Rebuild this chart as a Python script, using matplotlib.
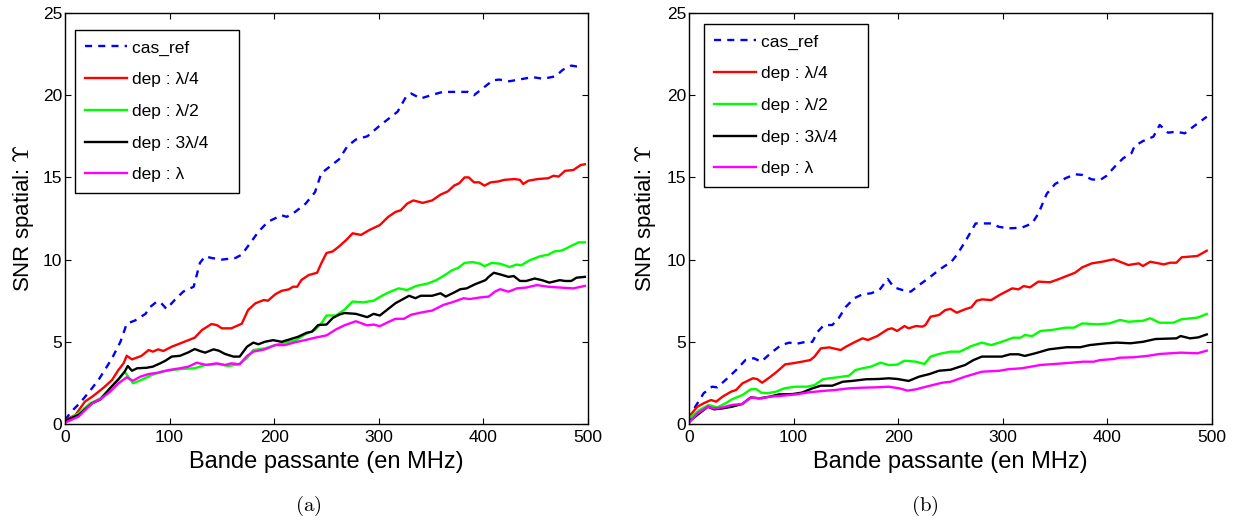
import matplotlib
matplotlib.use("Agg")
import matplotlib.pyplot as plt

plt.rcParams['font.family'] = ['Liberation Sans', 'DejaVu Sans']
plt.rcParams['mathtext.fontset'] = 'cm'

# ---------------- Panel (a) ----------------
a_ref_x = [0, 6, 14, 22, 32, 38, 45, 53, 59, 67, 77, 81, 88, 92, 97, 105, 113, 123, 129, 134, 140, 150, 163, 169, 177, 185, 194, 207, 212, 220, 230, 239, 245, 250,
           262, 270, 278, 289, 300, 310, 318, 326, 331, 340, 350, 361, 377, 385, 391, 399, 409, 415, 425, 434, 447, 457, 469, 476, 484, 489, 495]
a_ref_y = [0.24, 0.75, 1.26, 1.87, 2.68, 3.28, 4.0, 5.0, 6.1, 6.3, 6.7, 7.1, 7.45, 7.35, 7.0, 7.55, 8.05, 8.35, 9.8, 10.2, 10.1, 10.0, 10.1, 10.3, 11.0, 11.7, 12.3, 12.7, 12.6, 12.9, 13.4, 14.1, 15.25, 15.5,
           16.1, 16.9, 17.3, 17.5, 18.1, 18.6, 19.0, 19.9, 20.1, 19.8, 20.0, 20.2, 20.2, 20.2, 20.0, 20.4, 20.9, 20.95, 20.85, 20.95, 21.1, 21.0, 21.15, 21.55, 21.8, 21.75, 21.7]

a_q_x = [0, 10, 19, 26, 32, 38, 45, 51, 56, 59, 64, 73, 80, 84, 89, 94, 102, 110, 118, 124, 131, 140, 145, 150, 159, 169, 175, 182, 190, 194, 201, 207, 214, 218, 222, 226, 233, 241, 245, 250,
         256, 262, 269, 275, 283, 291, 301, 309, 316, 321, 327, 333, 342, 351, 359, 366, 372, 377, 382, 386, 391, 396, 401, 407, 414, 420, 430, 435, 438, 443, 452, 462, 467, 472, 478, 486, 493, 497]
a_q_y = [0.24, 0.55, 1.36, 1.66, 1.96, 2.27, 2.68, 3.28, 3.69, 4.15, 3.93, 4.14, 4.5, 4.4, 4.54, 4.44, 4.7, 4.9, 5.1, 5.25, 5.72, 6.08, 6.02, 5.82, 5.82, 6.1, 6.93, 7.34, 7.54, 7.5, 7.89, 8.1, 8.19, 8.35, 8.35, 8.76, 9.06, 9.2, 9.77, 10.4,
         10.5, 10.8, 11.2, 11.6, 11.5, 11.8, 12.1, 12.6, 12.9, 13.0, 13.4, 13.6, 13.45, 13.6, 13.95, 14.15, 14.5, 14.65, 15.0, 15.0, 14.7, 14.7, 14.5, 14.7, 14.75, 14.85, 14.9, 14.85, 14.6, 14.8, 14.9, 14.95, 15.1, 15.05, 15.4, 15.45, 15.75, 15.8]

a_h_x = [0, 13, 24, 34, 43, 51, 57, 65, 73, 83, 92, 102, 112, 124, 134, 147, 156, 166, 174, 180, 191, 201, 210, 220, 230, 239, 245, 250,
         259, 267, 275, 285, 295, 303, 311, 319, 327, 336, 347, 355, 363, 370, 376, 382, 390, 397, 401, 408, 416, 425, 432, 436, 444, 454, 462, 468, 475, 483, 491, 497]
a_h_y = [0.14, 0.65, 1.26, 1.56, 2.17, 2.68, 3.18, 2.47, 2.68, 2.98, 3.18, 3.28, 3.35, 3.39, 3.59, 3.65, 3.53, 3.63, 4.0, 4.5, 4.6, 4.8, 4.95, 5.07, 5.47, 5.72, 6.12, 6.6,
         6.6, 6.95, 7.45, 7.4, 7.5, 7.8, 8.05, 8.25, 8.15, 8.4, 8.55, 8.75, 9.05, 9.35, 9.5, 9.8, 9.85, 9.75, 9.6, 9.8, 9.75, 9.55, 9.7, 9.65, 9.95, 10.2, 10.3, 10.5, 10.55, 10.8, 11.05, 11.05]

a_t_x = [0, 13, 26, 34, 43, 51, 57, 60, 64, 69, 78, 84, 91, 96, 102, 110, 118, 124, 129, 134, 142, 147, 153, 161, 167, 174, 180, 185, 191, 199, 207, 215, 223, 231, 236, 242, 250,
         256, 262, 267, 278, 289, 295, 301, 312, 316, 329, 335, 340, 351, 359, 364, 372, 378, 384, 392, 402, 405, 410, 416, 424, 429, 435, 441, 449, 456, 463, 473, 478, 484, 489, 497]
a_t_y = [0.2, 0.55, 1.26, 1.5, 2.17, 2.72, 3.18, 3.53, 3.24, 3.39, 3.42, 3.49, 3.69, 3.85, 4.1, 4.15, 4.36, 4.56, 4.44, 4.34, 4.54, 4.46, 4.26, 4.1, 4.1, 4.7, 4.95, 4.85, 5.0, 5.1, 5.0, 5.15, 5.31, 5.55, 5.61, 6.02, 6.05,
         6.45, 6.65, 6.75, 6.7, 6.5, 6.7, 6.6, 7.15, 7.35, 7.8, 7.65, 7.8, 7.8, 7.95, 7.75, 8.0, 8.2, 8.25, 8.5, 8.75, 8.95, 9.2, 9.1, 8.95, 9.0, 8.7, 8.7, 8.85, 8.75, 8.6, 8.75, 8.7, 8.7, 8.9, 8.95]

a_l_x = [0, 13, 26, 35, 43, 51, 59, 65, 72, 80, 89, 99, 110, 118, 126, 135, 145, 153, 159, 167, 174, 180, 191, 201, 210, 220, 230, 239, 250,
         259, 267, 278, 289, 295, 301, 309, 316, 324, 331, 342, 351, 362, 370, 381, 387, 397, 405, 411, 416, 424, 432, 441, 451, 462, 473, 486, 497]
a_l_y = [0.08, 0.45, 1.26, 1.56, 1.96, 2.47, 2.84, 2.63, 2.88, 3.04, 3.12, 3.28, 3.39, 3.49, 3.73, 3.59, 3.69, 3.59, 3.69, 3.63, 4.14, 4.4, 4.54, 4.8, 4.8, 4.97, 5.11, 5.25, 5.39,
         5.75, 6.0, 6.25, 6.0, 6.05, 5.95, 6.2, 6.4, 6.4, 6.65, 6.8, 6.9, 7.25, 7.4, 7.65, 7.6, 7.7, 7.75, 8.05, 8.2, 8.05, 8.25, 8.3, 8.45, 8.35, 8.3, 8.25, 8.4]

# ---------------- Panel (b) ----------------
b_ref_x = [0, 6, 14, 22, 27, 35, 45, 54, 62, 69, 78, 88, 96, 102, 112, 118, 123, 129, 137, 143, 150, 158, 166, 174, 182, 190, 196, 204, 212, 220, 230, 239, 245, 250,
           256, 264, 274, 282, 289, 296, 305, 318, 328, 334, 342, 350, 360, 369, 376, 385, 393, 399, 407, 415, 423, 426, 434, 444, 450, 458, 466, 474, 482, 495]
b_ref_y = [0.24, 1.05, 1.87, 2.27, 2.23, 2.68, 3.28, 3.89, 4.0, 3.79, 4.3, 4.8, 4.95, 4.87, 5.0, 5.0, 5.61, 6.02, 6.02, 6.43, 7.13, 7.65, 7.89, 7.95, 8.15, 8.82, 8.31, 8.15, 8.05, 8.45, 8.92, 9.37, 9.63, 9.8,
           10.28, 11.09, 12.2, 12.2, 12.2, 12.0, 11.9, 11.94, 12.2, 12.8, 14.0, 14.6, 14.95, 15.19, 15.15, 14.88, 14.84, 15.09, 15.65, 16.16, 16.47, 16.91, 17.21, 17.48, 18.19, 17.72, 17.78, 17.68, 18.08, 18.69]

b_q_x = [0, 8, 14, 21, 26, 32, 40, 45, 51, 61, 65, 70, 78, 84, 92, 99, 108, 116, 120, 126, 134, 145, 150, 159, 166, 171, 180, 190, 194, 199, 206, 210, 217, 223, 226, 231, 239, 245, 250,
         256, 264, 270, 275, 280, 289, 297, 309, 315, 320, 326, 334, 345, 353, 361, 369, 376, 385, 395, 406, 412, 420, 430, 434, 441, 454, 460, 466, 471, 486, 495]
b_q_y = [0.45, 1.05, 1.26, 1.46, 1.36, 1.66, 1.96, 2.07, 2.47, 2.78, 2.74, 2.51, 2.88, 3.18, 3.63, 3.69, 3.79, 3.89, 4.1, 4.6, 4.66, 4.5, 4.7, 5.0, 5.21, 5.11, 5.35, 5.76, 5.82, 5.66, 5.96, 5.82, 5.96, 5.92, 6.02, 6.53, 6.63, 6.93, 7.0,
         6.77, 6.98, 7.1, 7.5, 7.58, 7.54, 7.85, 8.25, 8.19, 8.39, 8.31, 8.66, 8.62, 8.8, 9.0, 9.2, 9.53, 9.77, 9.87, 10.02, 9.87, 9.67, 9.77, 9.61, 9.87, 9.71, 9.81, 9.81, 10.14, 10.22, 10.54]

b_h_x = [0, 10, 19, 27, 35, 41, 51, 59, 64, 69, 75, 83, 91, 102, 113, 120, 128, 134, 142, 153, 159, 166, 174, 183, 191, 199, 206, 217, 225, 231, 239, 250,
         259, 270, 280, 289, 299, 310, 317, 321, 328, 336, 347, 360, 368, 376, 390, 402, 412, 420, 434, 441, 450, 463, 471, 486, 495]
b_h_y = [0.35, 0.85, 1.16, 1.01, 1.26, 1.5, 1.76, 2.11, 2.13, 1.91, 1.87, 1.96, 2.17, 2.27, 2.27, 2.37, 2.72, 2.78, 2.84, 2.94, 3.28, 3.39, 3.49, 3.73, 3.59, 3.61, 3.85, 3.79, 3.65, 4.1, 4.26, 4.4,
         4.4, 4.74, 4.95, 4.8, 5.0, 5.25, 5.25, 5.41, 5.35, 5.66, 5.72, 5.86, 5.86, 6.12, 6.06, 6.12, 6.33, 6.22, 6.28, 6.43, 6.16, 6.16, 6.37, 6.47, 6.69]

b_t_x = [0, 8, 18, 24, 32, 41, 51, 59, 67, 77, 86, 99, 108, 118, 126, 137, 147, 156, 169, 182, 191, 199, 210, 220, 230, 239, 250,
         264, 272, 280, 299, 307, 315, 321, 331, 344, 361, 374, 383, 399, 409, 422, 434, 446, 466, 470, 479, 487, 495]
b_t_y = [0.14, 0.55, 1.05, 0.89, 0.95, 1.05, 1.22, 1.62, 1.56, 1.66, 1.8, 1.82, 1.91, 2.17, 2.33, 2.33, 2.57, 2.62, 2.72, 2.74, 2.78, 2.74, 2.62, 2.88, 3.04, 3.24, 3.3,
         3.59, 3.89, 4.1, 4.1, 4.24, 4.24, 4.14, 4.3, 4.54, 4.67, 4.67, 4.8, 4.91, 4.95, 4.91, 5.0, 5.17, 5.21, 5.35, 5.21, 5.27, 5.45]

b_l_x = [0, 8, 18, 24, 32, 41, 51, 59, 69, 77, 89, 102, 115, 128, 140, 153, 166, 179, 191, 201, 209, 217, 223, 233, 242, 250,
         264, 280, 297, 305, 318, 336, 358, 377, 387, 393, 406, 411, 425, 438, 450, 470, 486, 495]
b_l_y = [0.08, 0.65, 1.05, 0.95, 1.01, 1.16, 1.22, 1.6, 1.56, 1.66, 1.72, 1.8, 1.93, 2.01, 2.07, 2.17, 2.21, 2.23, 2.27, 2.17, 2.03, 2.11, 2.21, 2.37, 2.51, 2.57,
         2.88, 3.18, 3.24, 3.33, 3.39, 3.59, 3.69, 3.79, 3.79, 3.89, 3.95, 4.03, 4.06, 4.14, 4.26, 4.34, 4.3, 4.46]

labels = ['cas_ref', 'dep : λ/4', 'dep : λ/2', 'dep : 3λ/4', 'dep : λ']
colors = ['#0000ff', '#ff0000', '#00ff00', '#000000', '#ff00ff']
styles = [(0, (3, 2.6)), '-', '-', '-', '-']

panels = [
    [(a_ref_x, a_ref_y), (a_q_x, a_q_y), (a_h_x, a_h_y), (a_t_x, a_t_y), (a_l_x, a_l_y)],
    [(b_ref_x, b_ref_y), (b_q_x, b_q_y), (b_h_x, b_h_y), (b_t_x, b_t_y), (b_l_x, b_l_y)],
]
captions = ['(a)', '(b)']
xticks = [0, 100, 200, 300, 400, 500]
yticks = [0, 5, 10, 15, 20, 25]

W, H = 1233, 521
fig = plt.figure(figsize=(W / 100, H / 100), dpi=100)

ax_rects = [[65 / W, (H - 424) / H, 523 / W, 411 / H],
            [689 / W, (H - 424) / H, 523 / W, 411 / H]]
leg_anchor = [(10 / 523, 1 - 17 / 411), (15 / 523, 1 - 11 / 411)]
ylab_x = [-0.055, -0.059]
cap_x = [308 / W, 925 / W]

for i, series in enumerate(panels):
    ax = fig.add_axes(ax_rects[i])
    for (xs, ys), lab, c, ls in zip(series, labels, colors, styles):
        ax.plot(xs, ys, color=c, linestyle=ls, linewidth=1.7, label=lab + '    ')
    ax.set_xlim(0, 500)
    ax.set_ylim(0, 25)
    ax.set_xticks(xticks)
    ax.set_yticks(yticks)
    ax.tick_params(direction='in', top=True, right=True, length=4.5, width=0.8,
                   labelsize=12.5, colors='black')
    ax.tick_params(axis='x', pad=4)
    ax.tick_params(axis='y', pad=2)
    for sp in ax.spines.values():
        sp.set_linewidth(1.0)
    ax.set_xlabel('Bande passante (en MHz)', fontsize=17)
    ax.set_ylabel(r'SNR spatial: $\Upsilon$', fontsize=16)
    ax.xaxis.set_label_coords(0.5, -0.066)
    ax.yaxis.set_label_coords(ylab_x[i], 0.5)
    leg = ax.legend(loc='upper left', bbox_to_anchor=leg_anchor[i], borderaxespad=0,
                    fontsize=12.5, handlelength=2.4, handletextpad=0.3,
                    labelspacing=0.95, borderpad=0.6, fancybox=False, framealpha=1,
                    edgecolor='black')
    leg.get_frame().set_linewidth(1.0)
    fig.text(cap_x[i], 1 - 506 / H, r'$\mathrm{%s}$' % captions[i], ha='center', va='center',
             fontsize=15)

fig.savefig('out.png', dpi=100)
